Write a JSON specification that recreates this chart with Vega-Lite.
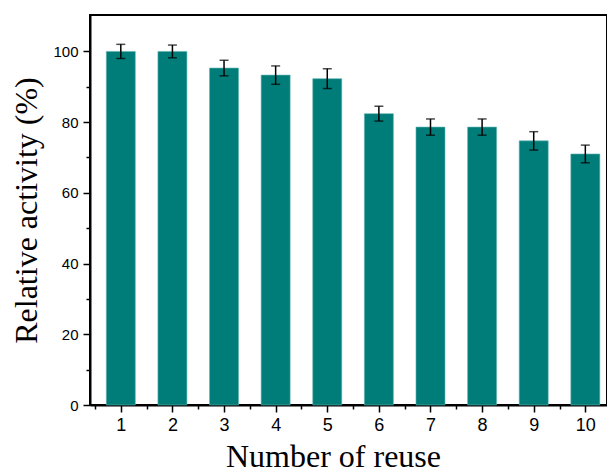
{
  "$schema": "https://vega.github.io/schema/vega-lite/v6.json",
  "width": 517,
  "height": 390,
  "autosize": {"type": "none"},
  "padding": {"left": 90, "top": 15, "right": 0, "bottom": 68},
  "background": "white",
  "config": {
    "view": {"stroke": "black", "strokeWidth": 2},
    "axis": {
      "domainColor": "black",
      "domainWidth": 2,
      "tickColor": "black",
      "tickWidth": 1.5,
      "grid": false,
      "labelFont": "Liberation Sans",
      "labelFontSize": 14,
      "labelColor": "black",
      "titleFont": "Liberation Serif",
      "titleFontSize": 32,
      "titleFontWeight": "normal",
      "titleColor": "black"
    }
  },
  "data": {
    "values": [
      {"n": 1, "v": 100.0, "e": 2.0},
      {"n": 2, "v": 100.0, "e": 1.8},
      {"n": 3, "v": 95.3, "e": 2.2},
      {"n": 4, "v": 93.3, "e": 2.6},
      {"n": 5, "v": 92.3, "e": 2.8},
      {"n": 6, "v": 82.4, "e": 2.1},
      {"n": 7, "v": 78.6, "e": 2.3},
      {"n": 8, "v": 78.6, "e": 2.3},
      {"n": 9, "v": 74.7, "e": 2.6},
      {"n": 10, "v": 71.0, "e": 2.5}
    ]
  },
  "encoding": {
    "x": {
      "field": "n",
      "type": "quantitative",
      "scale": {"domain": [0.5, 10.323], "nice": false, "zero": false},
      "axis": {
        "title": "Number of reuse",
        "titleX": 243,
        "labelFontSize": 18,
        "values": [0.5, 1, 1.5, 2, 2.5, 3, 3.5, 4, 4.5, 5, 5.5, 6, 6.5, 7, 7.5, 8, 8.5, 9, 9.5, 10],
        "labelExpr": "datum.value % 1 ? '' : format(datum.value, 'd')",
        "tickSize": {"condition": {"test": "datum.value % 1 !== 0", "value": 4}, "value": 7},
        "labelPadding": 4,
        "titlePadding": 7,
        "labelFlush": false,
        "labelOverlap": false
      }
    },
    "y": {
      "field": "v",
      "type": "quantitative",
      "scale": {"domain": [0, 110.3], "nice": false},
      "axis": {
        "title": "Relative activity (%)",
        "labelFontSize": 15,
        "values": [0, 10, 20, 30, 40, 50, 60, 70, 80, 90, 100],
        "labelExpr": "datum.value % 20 ? '' : datum.label",
        "tickSize": {"condition": {"test": "datum.value % 20 !== 0", "value": 4}, "value": 7},
        "labelPadding": 5,
        "titlePadding": 9,
        "labelOverlap": false
      }
    }
  },
  "layer": [
    {
      "mark": {"type": "bar", "size": 29, "color": "#007D79", "stroke": "#5fb3b0", "strokeWidth": 0.6}
    },
    {
      "mark": {"type": "errorbar", "color": "black", "thickness": 1.5, "ticks": {"size": 9, "strokeWidth": 1.5, "color": "black"}},
      "encoding": {
        "yError": {"field": "e"}
      }
    }
  ]
}
